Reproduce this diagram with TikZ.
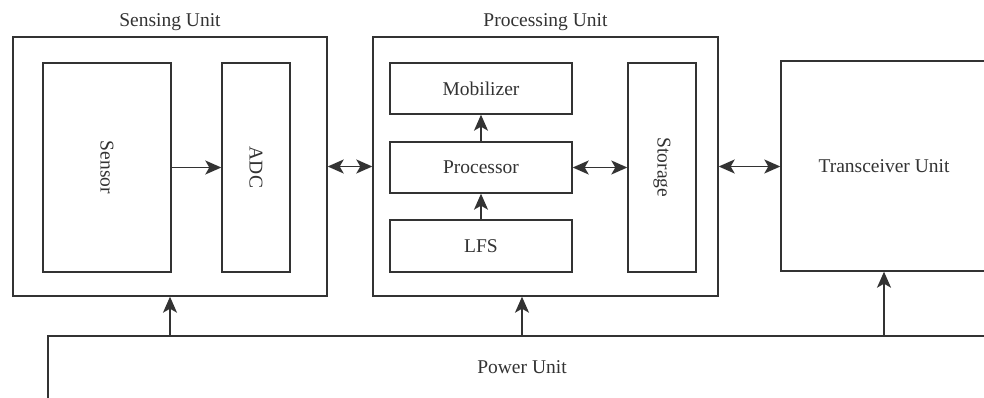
\documentclass[tikz,border=0pt]{standalone}
\usepackage{fontspec}
\setmainfont{Liberation Serif}
\usetikzlibrary{arrows.meta}
\definecolor{ink}{HTML}{333333}
\tikzset{headtip/.tip={Stealth[length=16pt,width=14pt,inset=4pt]}}
\begin{document}
\begin{tikzpicture}[x=1pt,y=-1pt,
  font=\fontsize{19.5}{22}\selectfont,
  box/.style={draw=ink,line width=1.4pt,inner sep=0pt,text=ink,
    minimum width=#1},
  box/.default=10pt,
  lbl/.style={text=ink,inner sep=0pt},
  link/.style={draw=ink,line width=1.5pt,-headtip},
  dlink/.style={draw=ink,line width=1.5pt,headtip-headtip}]
\clip (0,0) rectangle (984,398);
\useasboundingbox (0,0) rectangle (984,398);
\fill[white] (0,0) rectangle (984,398);

% Sensing unit
\node[box=314pt,minimum height=259pt] (sensing) at (170,166.5) {};
\node[lbl] (sensingL) at (170,22) {Sensing Unit};
\node[box=128pt,minimum height=209pt] (sensor) at (107,167.5) {};
\node[lbl,rotate=-90] (sensorL) at (sensor.center) {Sensor};
\node[box=68pt,minimum height=209pt] (adc) at (256,167.5) {};
\node[lbl,rotate=-90] (adcL) at (adc.center) {ADC};

% Processing unit
\node[box=345pt,minimum height=259pt] (proc) at (545.5,166.5) {};
\node[lbl] (procL) at (545.5,22) {Processing Unit};
\node[box=182pt,minimum height=51pt] (mob) at (481,88.5) {Mobilizer};
\node[box=182pt,minimum height=51pt] (cpu) at (481,167.5) {Processor};
\node[box=182pt,minimum height=52pt] (lfs) at (481,246) {LFS};
\node[box=68pt,minimum height=209pt] (store) at (662,167.5) {};
\node[lbl,rotate=-90] (storeL) at (store.center) {Storage};

% Transceiver and power units (both run past the picture edge)
\node[box=206pt,minimum height=210pt] (trx) at (884,166) {Transceiver Unit};
\node[box=948pt,minimum height=80pt] (power) at (522,376) {};
\node[lbl] (powerL) at (522,367) {Power Unit};

% Connections
\draw[link] (sensor.east) -- (adc.west);
\draw[dlink] (sensing.east) -- (proc.west);
\draw[link] (cpu.north) -- (mob.south);
\draw[link] (lfs.north) -- (cpu.south);
\draw[dlink] (cpu.east) -- (cpu.east -| store.west);
\draw[dlink] (proc.east) -- (proc.east -| trx.west);
\draw[link] (power.north -| sensing.south) -- (sensing.south);
\draw[link] (power.north) -- (power.north |- proc.south);
\draw[link] (power.north -| trx.south) -- (trx.south);
\end{tikzpicture}
\end{document}
